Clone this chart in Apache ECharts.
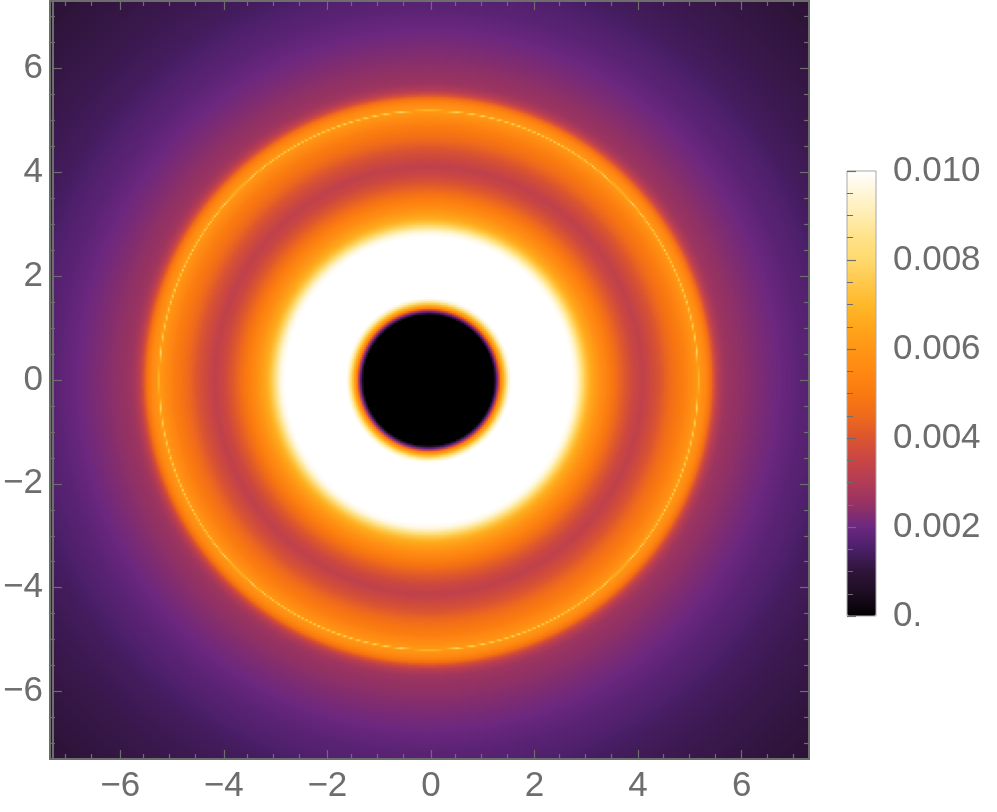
<!DOCTYPE html>
<html>
<head>
<meta charset="utf-8">
<style>html,body{margin:0;padding:0;background:#fff}#c{width:997px;height:812px}</style>
<script src="https://cdn.jsdelivr.net/npm/echarts@6/dist/echarts.min.js"></script>
</head>
<body>
<div id="c"></div>
<script>
// Radial profile: distance from centre and plotted value.
const profileRadius = [0, 1.26, 1.28, 1.31, 1.35, 1.39, 1.43, 1.48, 1.53, 1.59, 2.76, 2.85, 2.92, 3.00, 3.11, 3.32, 3.59, 3.70, 3.94, 4.12, 4.42, 4.67, 4.93, 5.13, 5.17, 5.19, 5.21, 5.24, 5.32, 5.42, 5.50, 5.58, 5.68, 5.77, 6.00, 6.40, 6.67, 7.17, 7.34, 8.00, 8.90, 10.40];
const profileValue  = [0, 0, 0.0008, 0.0017, 0.0035, 0.0055, 0.0065, 0.0078, 0.0092, 0.0100, 0.0100, 0.0096, 0.0088, 0.0077, 0.0067, 0.0057, 0.0047, 0.0043, 0.0036, 0.0033, 0.0039, 0.0046, 0.0052, 0.0059, 0.0060, 0.0078, 0.0060, 0.0059, 0.0056, 0.0048, 0.0038, 0.0031, 0.00275, 0.0026, 0.00245, 0.0022, 0.00205, 0.00175, 0.0017, 0.0014, 0.0012, 0.00095];
// Colour bar read at each 0.0005 step.
const barColors = ['#000000','#1c0d22','#2e1438','#4a1f68','#6c2880','#943264','#b23c56','#c84545','#db5530','#ef6a1c','#fa7a10','#ff8812','#ff9615','#ffa61c','#ffb82a','#ffc84c','#ffd96e','#ffe288','#ffedb0','#fff6d6','#ffffff'];
const axisMin = -7.3, axisMax = 7.3, barMin = 0, barMax = 0.01;
const majorTicks = [-6, -4, -2, 0, 2, 4, 6];
const minorTicks = [-7, -6.5, -5.5, -5, -4.5, -3.5, -3, -2.5, -1.5, -1, -0.5, 0.5, 1, 1.5, 2.5, 3, 3.5, 4.5, 5, 5.5, 6.5, 7];
const cellCount = 379;

function profileAt(r) {
  let i = 1;
  while (i < profileRadius.length - 1 && profileRadius[i] < r) i++;
  const r0 = profileRadius[i - 1], r1 = profileRadius[i];
  return profileValue[i - 1] + (profileValue[i] - profileValue[i - 1]) * (r - r0) / (r1 - r0);
}
const centers = [];
for (let i = 0; i < cellCount; i++) centers.push(axisMin + (i + 0.5) * (axisMax - axisMin) / cellCount);
const cells = [];
for (let i = 0; i < cellCount; i++) for (let j = 0; j < cellCount; j++) {
  cells.push([i, j, profileAt(Math.hypot(centers[i], centers[j]))]);
}

const INK = '#6d6d6d', FONT = '"Liberation Sans", Arial, sans-serif';
const plotBox = { left: 50, top: 1, width: 759, height: 758, show: false };
const fmt = v => String(v).replace('-', '\u2212');
function frameAxis(gridIndex, position, ticks, len, labels) {
  return {
    type: 'value', gridIndex, position, min: axisMin, max: axisMax, z: 10,
    axisLine: { show: true, onZero: false, lineStyle: { color: INK, width: 2 } },
    axisTick: { show: true, inside: true, length: len, customValues: ticks, lineStyle: { color: INK, width: 1.2 } },
    axisLabel: labels ? { show: true, customValues: majorTicks, formatter: fmt, color: INK, fontFamily: FONT, fontSize: 35, margin: 10 } : { show: false },
    splitLine: { show: false }, minorTick: { show: false }
  };
}
const hidden = { show: false };
const option = {
  animation: false,
  backgroundColor: '#ffffff',
  grid: [
    { left: 50, top: 1, width: 758, height: 758, show: false },
    plotBox,
    plotBox,
    { left: 847, top: 171, width: 29, height: 445, show: true, z: 6, borderColor: '#a8a8a8', borderWidth: 1, backgroundColor: 'transparent' }
  ],
  xAxis: [
    { type: 'category', gridIndex: 0, data: centers, boundaryGap: true, axisLine: hidden, axisTick: hidden, axisLabel: hidden, splitLine: hidden },
    frameAxis(1, 'bottom', majorTicks, 9, true),
    frameAxis(1, 'top', majorTicks, 9, false),
    frameAxis(2, 'bottom', minorTicks, 5, false),
    frameAxis(2, 'top', minorTicks, 5, false),
    { type: 'value', gridIndex: 3, min: 0, max: 1, axisLine: hidden, axisTick: hidden, axisLabel: hidden, splitLine: hidden }
  ],
  yAxis: [
    { type: 'category', gridIndex: 0, data: centers, boundaryGap: true, axisLine: hidden, axisTick: hidden, axisLabel: hidden, splitLine: hidden },
    frameAxis(1, 'left', majorTicks, 9, true),
    frameAxis(1, 'right', majorTicks, 9, false),
    frameAxis(2, 'left', minorTicks, 5, false),
    frameAxis(2, 'right', minorTicks, 5, false),
    {
      type: 'value', gridIndex: 3, position: 'right', min: barMin, max: barMax, interval: 0.002, z: 10,
      axisLine: { show: false },
      axisTick: { show: true, length: 9, lineStyle: { color: INK, width: 1.2 } },
      minorTick: { show: true, splitNumber: 4, length: 6, lineStyle: { color: INK, width: 1 } },
      axisLabel: { show: true, margin: 17, color: INK, fontFamily: FONT, fontSize: 35,
        formatter: v => (v === 0 ? '0.' : v.toFixed(3)) },
      splitLine: hidden, minorSplitLine: hidden
    }
  ],
  visualMap: {
    type: 'continuous', seriesIndex: 0, min: barMin, max: barMax, show: true, calculable: false,
    left: 847, top: 171, itemWidth: 29, itemHeight: 445, padding: 0, showLabel: false, text: null, hoverLink: false,
    inRange: { color: barColors }
  },
  series: [{
    type: 'heatmap', coordinateSystem: 'cartesian2d', xAxisIndex: 0, yAxisIndex: 0,
    data: cells, progressive: 0, silent: true, emphasis: { disabled: true }, z: 2
  }]
};
const chart = echarts.init(document.getElementById('c'), null, { renderer: 'canvas' });
chart.setOption(option);
</script>
</body>
</html>
